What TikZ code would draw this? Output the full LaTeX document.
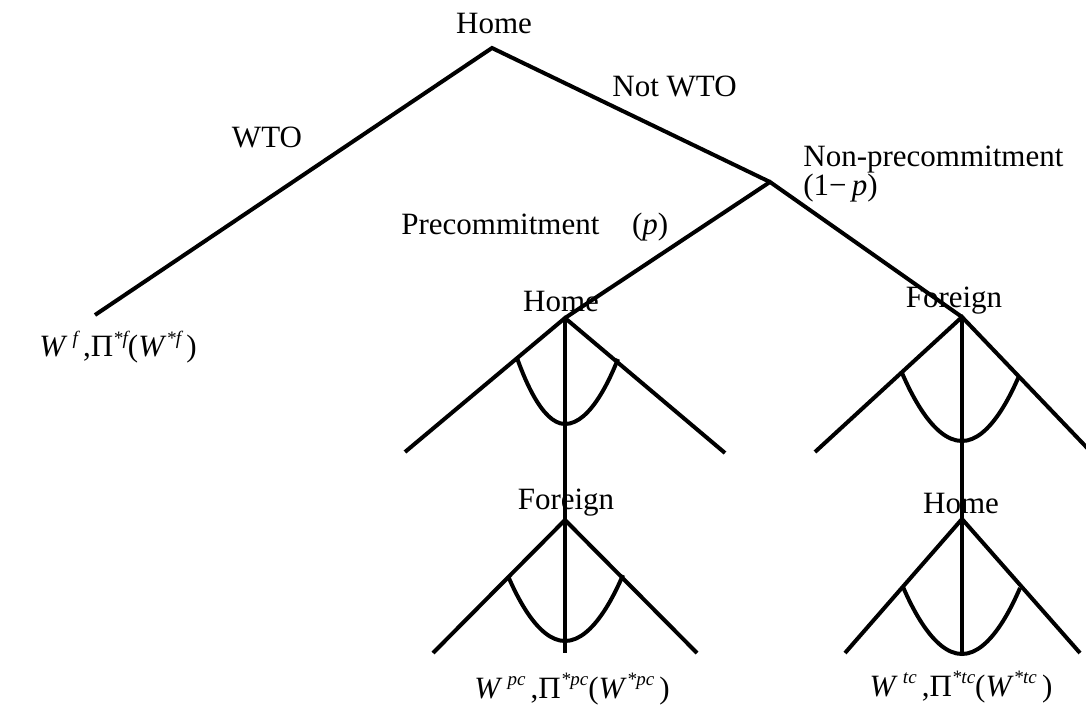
\documentclass[tikz,border=0pt]{standalone}
\usepackage{fontspec}
\setmainfont{Liberation Serif}
\usetikzlibrary{positioning}
\tikzset{
    lbl/.style={font=\fontsize{15.5}{18}\selectfont, inner sep=0pt},
    branch/.style={line width=2pt, line join=miter},
}
\newcommand{\sps}[1]{\raisebox{0.4em}{\fontsize{9.5}{10}\selectfont\itshape #1}}
\newcommand{\payoff}[1]{\textit{W}\,\sps{#1}\,,Π\sps{*#1}(\textit{W}\sps{*#1}\,)}

\begin{document}
\begin{tikzpicture}[x=0.5pt, y=-0.5pt]
    \useasboundingbox (0,0) rectangle (1086,711);

    % decision points
    \coordinate (root) at (492,48);
    \coordinate (wto) at (95,315);
    \coordinate (nwto) at (770,182);
    \coordinate (hm) at (565,318);
    \coordinate (fg) at (962,317);
    \coordinate (fgb) at (565,520);
    \coordinate (hmb) at (962,519);

    % labels
    \node[lbl] (top) at (494,24) {Home};
    \node[lbl] (wtolbl) at (267,137) {WTO};
    \node[lbl, anchor=west] (nwtolbl) at (612,86) {Not WTO};
    \node[lbl, anchor=west] (nplbl) at (803,160) {Non-precommitment};
    \node[lbl, anchor=west] (qlbl) at (803,188) {(1−\,\textit{p})};
    \node[lbl, anchor=west] (plbl) at (401,227) {Precommitment\hspace{1.05em}(\textit{p})};
    \node[lbl] (hmlbl) at (561,302) {Home};
    \node[lbl] (fglbl) at (954,301) {Foreign};
    \node[lbl] (fgblbl) at (566,503) {Foreign};
    \node[lbl] (hmblbl) at (961,503) {Home};
    \node[lbl] (fpay) at (118,347) {\payoff{f}};
    \node[lbl] (pcpay) at (572,689) {\payoff{pc}};
    \node[lbl] (tcpay) at (961,687) {\payoff{tc}};

    % first stage
    \draw[branch] (wto) -- (root) -- (nwto);
    \draw[branch] (hm) -- (nwto) -- (fg);

    % Home moves first
    \coordinate (hmL) at (405,452);
    \coordinate (hmR) at (725,453);
    \draw[branch] (hmL) -- (hm) -- (hmR);
    \draw[branch] (hm) -- (fgb);
    \draw[branch] (517,358) parabola bend (565,424) (618,359);

    % Foreign answers
    \coordinate (fgbL) at (433,653);
    \coordinate (fgbR) at (697,653);
    \coordinate (fgbE) at (565,653);
    \draw[branch] (fgbL) -- (fgb) -- (fgbR);
    \draw[branch] (fgb) -- (fgbE);
    \draw[branch] (508,576) parabola bend (565,641) (623,575);

    % Foreign moves first
    \coordinate (fgL) at (815,452);
    \coordinate (fgR) at (1092,453);
    \draw[branch] (fgL) -- (fg) -- (fgR);
    \draw[branch] (fg) -- (hmb);
    \draw[branch] (902,373) parabola bend (962,441) (1019,376);

    % Home answers
    \coordinate (hmbL) at (845,653);
    \coordinate (hmbR) at (1080,653);
    \coordinate (hmbE) at (962,654);
    \draw[branch] (hmbL) -- (hmb) -- (hmbR);
    \draw[branch] (hmb) -- (hmbE);
    \draw[branch] (903,587) parabola bend (962,654) (1020,588);
\end{tikzpicture}
\end{document}
